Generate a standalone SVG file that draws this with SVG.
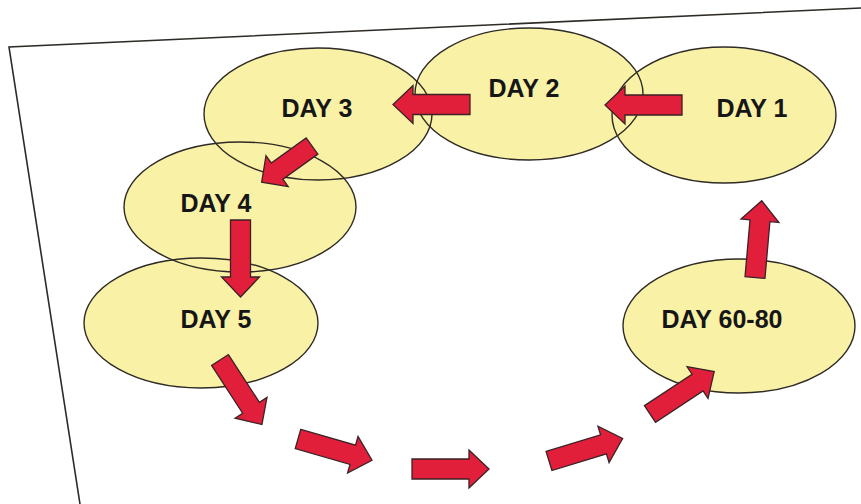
<svg xmlns="http://www.w3.org/2000/svg" xmlns:xlink="http://www.w3.org/1999/xlink" width="861" height="504" viewBox="0 0 861 504">
<style>
.fill{fill:#f8f1a6;stroke:none}
.outline{fill:none;stroke:#2e2a26;stroke-width:1.4}
.label{font-family:"Liberation Sans",Arial,sans-serif;font-weight:bold;font-size:25px;fill:#161616;text-anchor:middle}
.arrow{fill:#e21f3b;stroke:#3a2226;stroke-width:1.3;stroke-linejoin:miter}
.paper{fill:none;stroke:#2e2a26;stroke-width:1.6}
</style>
<defs>
<path id="arr" d="M0,-10 L57,-10 L57,-19 L77,0 L57,19 L57,10 L0,10 Z"/>
<path id="arrS" d="M0,-10 L43,-10 L43,-19 L62,0 L43,19 L43,10 L0,10 Z"/>
<ellipse id="e1" cx="724" cy="115" rx="112" ry="68"/>
<ellipse id="e2" cx="529" cy="94" rx="114" ry="66"/>
<ellipse id="e3" cx="318" cy="114" rx="114" ry="66"/>
<ellipse id="e4" cx="240" cy="207" rx="116" ry="65"/>
<ellipse id="e5" cx="201" cy="323" rx="117" ry="65"/>
<ellipse id="e6" cx="739" cy="326" rx="116" ry="67"/>
</defs>
<rect width="861" height="504" fill="#ffffff"/>
<polyline class="paper" points="861,8 9,47 80,504"/>
<g id="day1"><use href="#e1" class="fill"/><text class="label" x="752" y="117">DAY 1</text></g>
<g id="day2"><use href="#e2" class="fill"/><text class="label" x="524" y="97">DAY 2</text></g>
<g id="day3"><use href="#e3" class="fill"/><text class="label" x="317" y="117">DAY 3</text></g>
<g id="day4"><use href="#e4" class="fill"/><text class="label" x="216" y="212">DAY 4</text></g>
<g id="day5"><use href="#e5" class="fill"/><text class="label" x="216" y="328">DAY 5</text></g>
<g id="day60-80"><use href="#e6" class="fill"/><text class="label" x="722" y="328">DAY 60-80</text></g>
<g id="outlines">
<use href="#e1" class="outline"/>
<use href="#e2" class="outline"/>
<use href="#e3" class="outline"/>
<use href="#e4" class="outline"/>
<use href="#e5" class="outline"/>
<use href="#e6" class="outline"/>
</g>
<g id="connectors">
<use href="#arr" class="arrow" transform="translate(682,105) rotate(180)"/>
<use href="#arr" class="arrow" transform="translate(470,104.5) rotate(180)"/>
<use href="#arrS" class="arrow" transform="translate(312,146) rotate(144.3)"/>
<use href="#arr" class="arrow" transform="translate(240.5,220) rotate(90)"/>
<use href="#arr" class="arrow" transform="translate(220,360) rotate(57)"/>
<use href="#arr" class="arrow" transform="translate(298,439) rotate(16)"/>
<use href="#arr" class="arrow" transform="translate(412,469) rotate(0)"/>
<use href="#arr" class="arrow" transform="translate(549,461) rotate(-17)"/>
<use href="#arr" class="arrow" transform="translate(650,414) rotate(-33.5)"/>
<use href="#arr" class="arrow" transform="translate(755,277.5) rotate(-85)"/>
</g>
</svg>
